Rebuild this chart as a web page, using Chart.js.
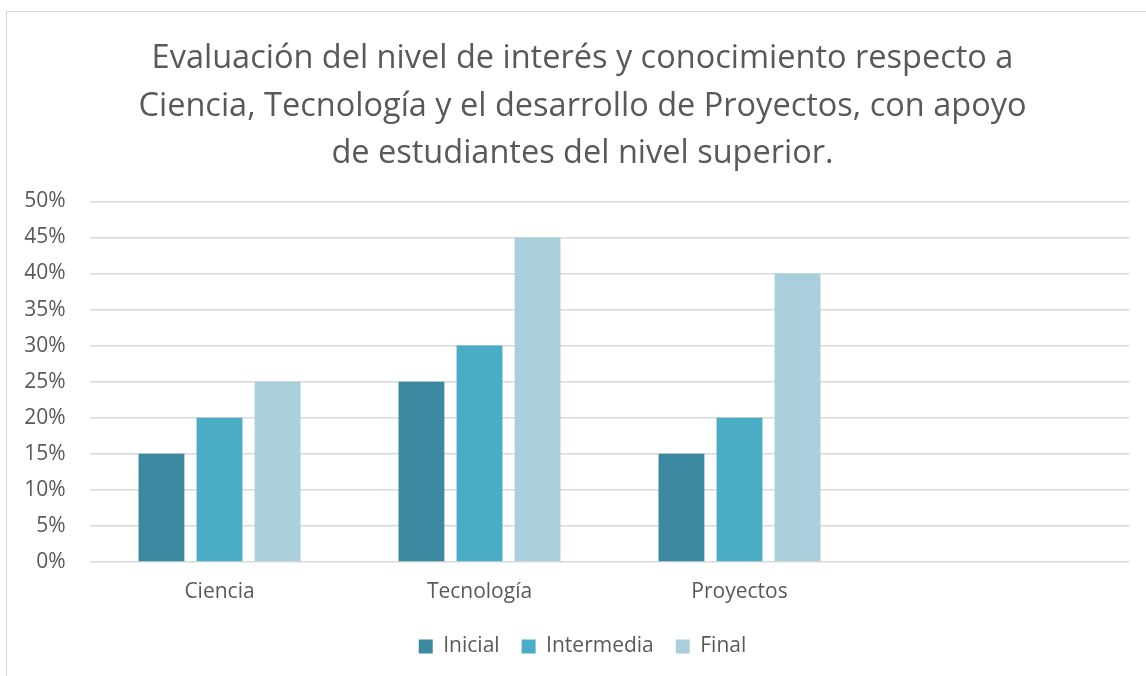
<!DOCTYPE html>
<html>
<head>
<meta charset="utf-8">
<script src="https://cdn.jsdelivr.net/npm/chart.js@4/dist/chart.umd.min.js"></script>
<style>
  html, body { margin: 0; padding: 0; background: #fff; overflow: hidden; }
  #frame {
    position: absolute; left: 6px; top: 11px;
    width: 1180px; height: 700px;
    border: 1.5px solid #d9d9d9; box-sizing: border-box;
  }
  #wrap { position: absolute; left: 0; top: 0; width: 1151px; height: 660px; }
</style>
</head>
<body>
<div id="frame">
  <div id="wrap"><canvas id="chart"></canvas></div>
</div>
<script>
const categories = ["Ciencia", "Tecnología", "Proyectos", ""];
const inicial = [0.15, 0.25, 0.15, null];
const intermedia = [0.20, 0.30, 0.20, null];
const final = [0.25, 0.45, 0.40, null];
const tickValues = [0, 0.05, 0.10, 0.15, 0.20, 0.25, 0.30, 0.35, 0.40, 0.45, 0.50];

const titleLines = [
  "Evaluación del nivel de interés y conocimiento respecto a",
  "Ciencia, Tecnología y el desarrollo de Proyectos, con apoyo",
  "de estudiantes del nivel superior."
];

const fontFamily = "'Open Sans', 'Noto Sans', sans-serif";
const textColor = "#595959";

const ctx = document.getElementById("chart").getContext("2d");
const myChart = new Chart(ctx, {
  type: "bar",
  data: {
    labels: categories,
    datasets: [
      { label: "Inicial", data: inicial, backgroundColor: "#3c8aa1" },
      { label: "Intermedia", data: intermedia, backgroundColor: "#4bacc6" },
      { label: "Final", data: final, backgroundColor: "#a9cfdd" },
    ],
  },
  options: {
    responsive: true,
    maintainAspectRatio: false,
    animation: false,
    layout: { padding: { left: 28.5, right: 28.5, top: 23.5, bottom: 5 } },
    datasets: {
      bar: { categoryPercentage: 0.67, barPercentage: 0.79 },
    },
    scales: {
      x: {
        grid: { display: false, drawTicks: false },
        border: { display: false },
        afterFit: (scale) => { scale.height = 52; },
        ticks: {
          color: textColor,
          padding: 17,
          font: { family: fontFamily, size: 21 },
          maxRotation: 0,
        },
      },
      y: {
        min: 0,
        max: 0.5,
        afterBuildTicks: (axis) => {
          axis.ticks = tickValues.map((v) => ({ value: v }));
        },
        afterFit: (scale) => {
          scale.width = 54;
          // let the labels run into the left padding without being cut
          scale._computeLabelArea = () => undefined;
        },
        grid: { color: "#d9d9d9", lineWidth: 1.5, drawTicks: false },
        border: { display: false },
        ticks: {
          color: textColor,
          padding: 24,
          font: { family: fontFamily, size: 21 },
          callback: (v) => Math.round(v * 100) + "%",
        },
      },
    },
    plugins: {
      title: {
        display: true,
        text: titleLines,
        color: textColor,
        font: { family: fontFamily, size: 32.5, weight: "normal", lineHeight: 1.46 },
        padding: { top: 0, bottom: 23.5 },
      },
      legend: {
        position: "bottom",
        labels: {
          color: textColor,
          boxWidth: 14,
          boxHeight: 14,
          padding: 22,
          font: { family: fontFamily, size: 21 },
        },
      },
      tooltip: { enabled: false },
    },
  },
});
</script>
</body>
</html>
